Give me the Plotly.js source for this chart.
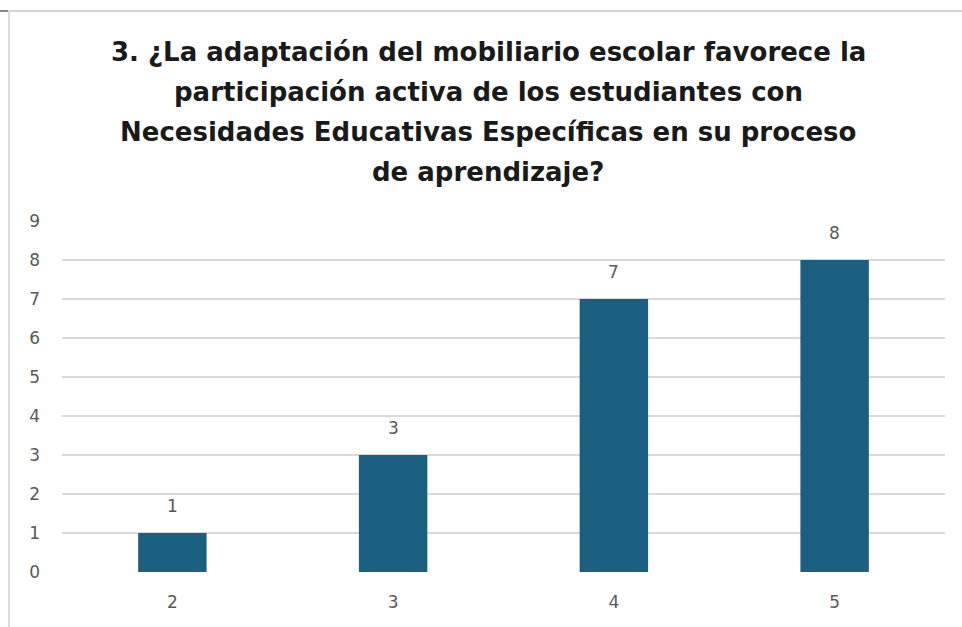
<!DOCTYPE html>
<html>
<head>
<meta charset="utf-8">
<script src="https://cdn.plot.ly/plotly-3.0.1.min.js"></script>
<style>
html,body{margin:0;padding:0;background:#fff;}
#wrap{position:relative;width:962px;height:627px;}
#chart{position:absolute;left:0;top:0;width:962px;height:627px;}
#frameTop{position:absolute;left:9px;top:10px;width:953px;height:2px;background:#d4d4d4;}
#frameTopL{position:absolute;left:0;top:10px;width:9px;height:2px;background:#8a8a8a;}
#frameLeft{position:absolute;left:8px;top:10px;width:2px;height:617px;background:#dcdcdc;}
</style>
</head>
<body>
<div id="wrap">
<div id="chart"></div>
<div id="frameTopL"></div>
<div id="frameTop"></div>
<div id="frameLeft"></div>
</div>
<script>
var categories = ["2", "3", "4", "5"];
var values = [1, 3, 7, 8];
var titleLines = [
  "3. ¿La adaptación del mobiliario escolar favorece la",
  "participación activa de los estudiantes con",
  "Necesidades Educativas Específicas en su proceso",
  "de aprendizaje?"
];
var yTicks = [0, 1, 2, 3, 4, 5, 6, 7, 8, 9];

var numFont = {family: "DejaVu Sans, Arial, sans-serif", size: 17, color: "#595959"};

var trace = {
  type: "bar",
  x: categories,
  y: values,
  marker: {color: "#1a5e80", line: {width: 0}},
  hoverinfo: "x+y"
};

var lineY = [52, 92, 132, 172];
var annotations = titleLines.map(function(t, i) {
  return {
    text: "<b>" + t + "</b>",
    xref: "paper", yref: "paper",
    x: (488 - 62) / 883,
    y: (572 - lineY[i]) / 351,
    xanchor: "center", yanchor: "middle",
    showarrow: false,
    font: {family: "DejaVu Sans, Arial, sans-serif", size: 26, color: "#1a1a1a"}
  };
});
categories.forEach(function(c, i) {
  annotations.push({
    text: String(values[i]),
    xref: "x", yref: "y",
    x: i, y: values[i],
    yshift: 27,
    xanchor: "center", yanchor: "middle",
    showarrow: false,
    font: numFont
  });
});

var layout = {
  width: 962, height: 627,
  margin: {l: 62, r: 17, t: 221, b: 55},
  paper_bgcolor: "#ffffff",
  plot_bgcolor: "#ffffff",
  showlegend: false,
  bargap: 0.69,
  annotations: annotations,
  xaxis: {
    type: "category",
    range: [-0.5, 3.5],
    showgrid: false, zeroline: false, showline: false,
    ticks: "",
    tickfont: numFont,
    ticklabelstandoff: 18
  },
  yaxis: {
    range: [0, 9],
    tickvals: yTicks,
    showgrid: true, gridcolor: "#d9d9d9", gridwidth: 1.5,
    zeroline: false, showline: false,
    ticks: "",
    tickfont: numFont,
    ticklabelstandoff: 21
  }
};

Plotly.newPlot("chart", [trace], layout, {displayModeBar: false, staticPlot: true});
</script>
</body>
</html>
